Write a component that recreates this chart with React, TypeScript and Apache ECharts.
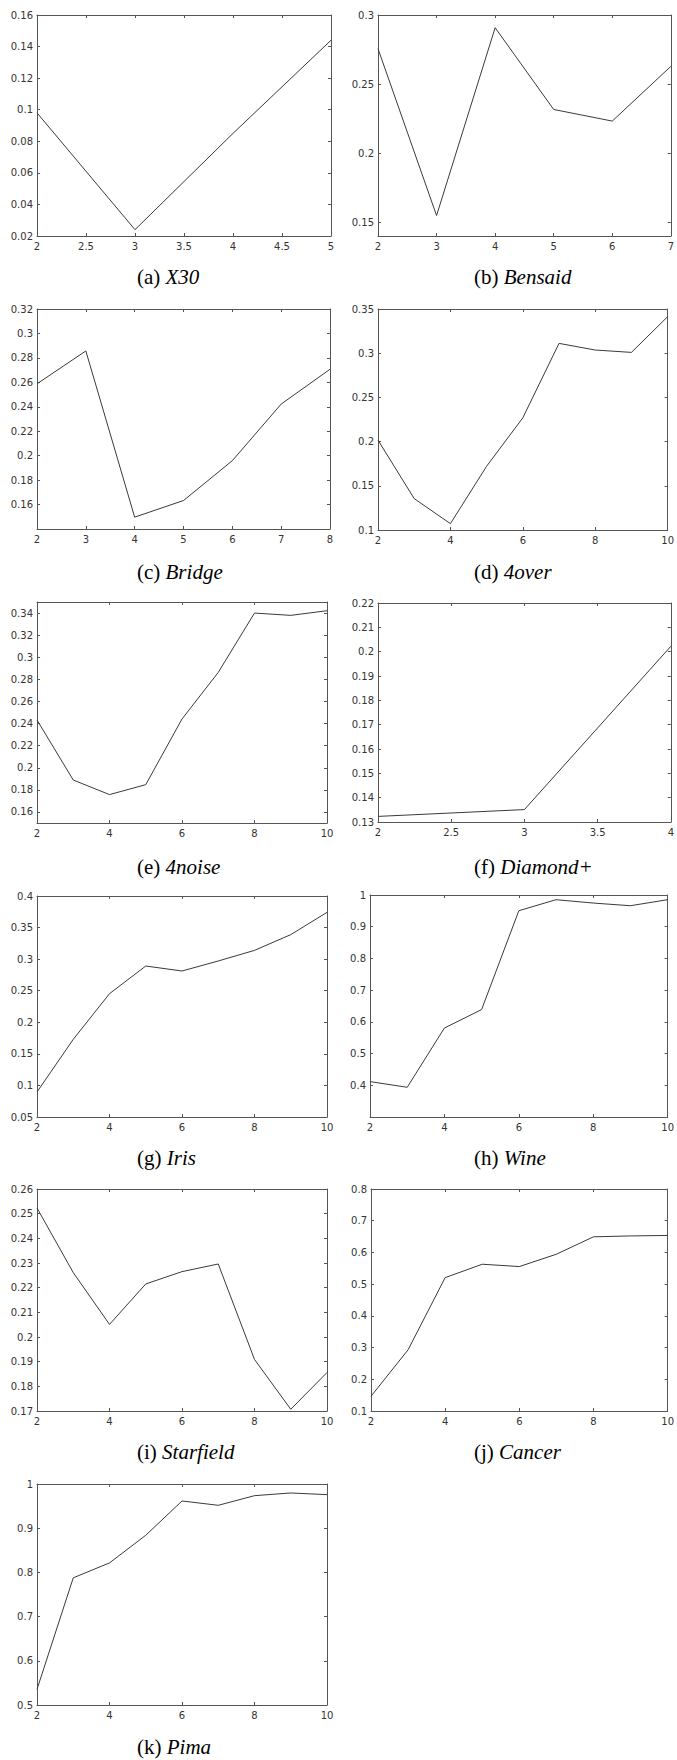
import React, { useEffect, useRef } from "react";
import * as echarts from "echarts";

// ---- data ----
const kX30 = [2, 3, 4, 5];
const valX30 = [0.098, 0.024, 0.085, 0.144];
const xTicksX30 = [2, 2.5, 3, 3.5, 4, 4.5, 5];
const yTicksX30 = [0.02, 0.04, 0.06, 0.08, 0.1, 0.12, 0.14, 0.16];

const kBensaid = [2, 3, 4, 5, 6, 7];
const valBensaid = [0.2756, 0.1548, 0.2908, 0.2316, 0.2232, 0.2628];
const xTicksBensaid = [2, 3, 4, 5, 6, 7];
const yTicksBensaid = [0.15, 0.2, 0.25, 0.3];

const kBridge = [2, 3, 4, 5, 6, 7, 8];
const valBridge = [0.2588, 0.2857, 0.1497, 0.1633, 0.1959, 0.2422, 0.2707];
const xTicksBridge = [2, 3, 4, 5, 6, 7, 8];
const yTicksBridge = [0.16, 0.18, 0.2, 0.22, 0.24, 0.26, 0.28, 0.3, 0.32];

const k4over = [2, 3, 4, 5, 6, 7, 8, 9, 10];
const val4over = [0.2016, 0.1355, 0.1072, 0.1721, 0.2269, 0.3111, 0.3036, 0.3009, 0.3413];
const xTicks4over = [2, 4, 6, 8, 10];
const yTicks4over = [0.1, 0.15, 0.2, 0.25, 0.3, 0.35];

const k4noise = [2, 3, 4, 5, 6, 7, 8, 9, 10];
const val4noise = [0.2432, 0.1889, 0.1757, 0.1847, 0.2441, 0.2863, 0.34, 0.3379, 0.3421];
const xTicks4noise = [2, 4, 6, 8, 10];
const yTicks4noise = [0.16, 0.18, 0.2, 0.22, 0.24, 0.26, 0.28, 0.3, 0.32, 0.34];

const kDiamond = [2, 3, 4];
const valDiamond = [0.1323, 0.1351, 0.2022];
const xTicksDiamond = [2, 2.5, 3, 3.5, 4];
const yTicksDiamond = [0.13, 0.14, 0.15, 0.16, 0.17, 0.18, 0.19, 0.2, 0.21, 0.22];

const kIris = [2, 3, 4, 5, 6, 7, 8, 9, 10];
const valIris = [0.0896, 0.173, 0.2453, 0.2891, 0.2812, 0.2971, 0.3139, 0.3388, 0.3741];
const xTicksIris = [2, 4, 6, 8, 10];
const yTicksIris = [0.05, 0.1, 0.15, 0.2, 0.25, 0.3, 0.35, 0.4];

const kWine = [2, 3, 4, 5, 6, 7, 8, 9, 10];
const valWine = [0.4116, 0.3937, 0.5806, 0.6387, 0.9504, 0.9852, 0.9746, 0.9662, 0.9852];
const xTicksWine = [2, 4, 6, 8, 10];
const yTicksWine = [0.4, 0.5, 0.6, 0.7, 0.8, 0.9, 1];

const kStarfield = [2, 3, 4, 5, 6, 7, 8, 9, 10];
const valStarfield = [0.2523, 0.2261, 0.2051, 0.2215, 0.2265, 0.2296, 0.1909, 0.1707, 0.1856];
const xTicksStarfield = [2, 4, 6, 8, 10];
const yTicksStarfield = [0.17, 0.18, 0.19, 0.2, 0.21, 0.22, 0.23, 0.24, 0.25, 0.26];

const kCancer = [2, 3, 4, 5, 6, 7, 8, 9, 10];
const valCancer = [0.1464, 0.293, 0.5206, 0.5628, 0.5554, 0.5944, 0.6492, 0.652, 0.6535];
const xTicksCancer = [2, 4, 6, 8, 10];
const yTicksCancer = [0.1, 0.2, 0.3, 0.4, 0.5, 0.6, 0.7, 0.8];

const kPima = [2, 3, 4, 5, 6, 7, 8, 9, 10];
const valPima = [0.5354, 0.7877, 0.8215, 0.884, 0.9616, 0.9518, 0.9736, 0.9797, 0.9759];
const xTicksPima = [2, 4, 6, 8, 10];
const yTicksPima = [0.5, 0.6, 0.7, 0.8, 0.9, 1];

// ---- panel layout ----
type Panel = {
  letter: string;
  name: string;
  k: number[];
  v: number[];
  xTicks: number[];
  yTicks: number[];
  xMin: number;
  xMax: number;
  yMin: number;
  yMax: number;
  left: number;
  top: number;
  width: number;
  height: number;
  capX: number;
  capY: number;
};

const panels: Panel[] = [
  { letter: "(a)", name: "X30", k: kX30, v: valX30, xTicks: xTicksX30, yTicks: yTicksX30, xMin: 2, xMax: 5, yMin: 0.02, yMax: 0.16, left: 37, top: 15, width: 294, height: 221, capX: 137, capY: 265 },
  { letter: "(b)", name: "Bensaid", k: kBensaid, v: valBensaid, xTicks: xTicksBensaid, yTicks: yTicksBensaid, xMin: 2, xMax: 7, yMin: 0.14, yMax: 0.3, left: 378, top: 15, width: 293, height: 221, capX: 474, capY: 265 },
  { letter: "(c)", name: "Bridge", k: kBridge, v: valBridge, xTicks: xTicksBridge, yTicks: yTicksBridge, xMin: 2, xMax: 8, yMin: 0.14, yMax: 0.32, left: 37, top: 309, width: 293, height: 220, capX: 137, capY: 560 },
  { letter: "(d)", name: "4over", k: k4over, v: val4over, xTicks: xTicks4over, yTicks: yTicks4over, xMin: 2, xMax: 10, yMin: 0.1, yMax: 0.35, left: 378, top: 309, width: 290, height: 221, capX: 474, capY: 560 },
  { letter: "(e)", name: "4noise", k: k4noise, v: val4noise, xTicks: xTicks4noise, yTicks: yTicks4noise, xMin: 2, xMax: 10, yMin: 0.15, yMax: 0.35, left: 37, top: 602, width: 290, height: 221, capX: 137, capY: 855 },
  { letter: "(f)", name: "Diamond+", k: kDiamond, v: valDiamond, xTicks: xTicksDiamond, yTicks: yTicksDiamond, xMin: 2, xMax: 4, yMin: 0.13, yMax: 0.22, left: 378, top: 603, width: 293, height: 219, capX: 474, capY: 855 },
  { letter: "(g)", name: "Iris", k: kIris, v: valIris, xTicks: xTicksIris, yTicks: yTicksIris, xMin: 2, xMax: 10, yMin: 0.05, yMax: 0.4, left: 37, top: 896, width: 290, height: 221, capX: 137, capY: 1146 },
  { letter: "(h)", name: "Wine", k: kWine, v: valWine, xTicks: xTicksWine, yTicks: yTicksWine, xMin: 2, xMax: 10, yMin: 0.3, yMax: 1, left: 370, top: 895, width: 298, height: 222, capX: 474, capY: 1146 },
  { letter: "(i)", name: "Starfield", k: kStarfield, v: valStarfield, xTicks: xTicksStarfield, yTicks: yTicksStarfield, xMin: 2, xMax: 10, yMin: 0.17, yMax: 0.26, left: 37, top: 1189, width: 290, height: 222, capX: 137, capY: 1440 },
  { letter: "(j)", name: "Cancer", k: kCancer, v: valCancer, xTicks: xTicksCancer, yTicks: yTicksCancer, xMin: 2, xMax: 10, yMin: 0.1, yMax: 0.8, left: 371, top: 1189, width: 297, height: 222, capX: 474, capY: 1440 },
  { letter: "(k)", name: "Pima", k: kPima, v: valPima, xTicks: xTicksPima, yTicks: yTicksPima, xMin: 2, xMax: 10, yMin: 0.5, yMax: 1, left: 37, top: 1484, width: 290, height: 221, capX: 137, capY: 1735 },
];

const BOX = "#555555";
const TEXT = "#333333";
const LINE = "#3a3a3a";
const FONT = "DejaVu Sans";

function buildOption() {
  const grid: any[] = [];
  const xAxis: any[] = [];
  const yAxis: any[] = [];
  const series: any[] = [];
  const title: any[] = [];

  panels.forEach((p, i) => {
    grid.push({ left: p.left, top: p.top, width: p.width, height: p.height, containLabel: false });
    const tick = { show: true, inside: true, length: 3, lineStyle: { color: BOX, width: 1 } };
    const line = { show: true, onZero: false, lineStyle: { color: BOX, width: 1 } };
    const lbl = (vals: number[], margin: number) => ({
      show: true,
      customValues: vals,
      formatter: (v: number) => String(v),
      color: TEXT,
      fontFamily: FONT,
      fontSize: 10,
      margin,
    });
    // bottom
    xAxis.push({
      type: "value", gridIndex: i, position: "bottom", min: p.xMin, max: p.xMax,
      axisLine: line, axisTick: { ...tick, customValues: p.xTicks }, axisLabel: lbl(p.xTicks, 5),
      splitLine: { show: false },
    });
    // top
    xAxis.push({
      type: "value", gridIndex: i, position: "top", min: p.xMin, max: p.xMax,
      axisLine: line, axisTick: { ...tick, customValues: p.xTicks }, axisLabel: { show: false },
      splitLine: { show: false },
    });
    // left
    yAxis.push({
      type: "value", gridIndex: i, position: "left", min: p.yMin, max: p.yMax,
      axisLine: line, axisTick: { ...tick, customValues: p.yTicks }, axisLabel: lbl(p.yTicks, 4),
      splitLine: { show: false },
    });
    // right
    yAxis.push({
      type: "value", gridIndex: i, position: "right", min: p.yMin, max: p.yMax,
      axisLine: line, axisTick: { ...tick, customValues: p.yTicks }, axisLabel: { show: false },
      splitLine: { show: false },
    });
    series.push({
      type: "line",
      xAxisIndex: i * 2,
      yAxisIndex: i * 2,
      data: p.k.map((x, j) => [x, p.v[j]]),
      symbol: "none",
      showSymbol: false,
      lineStyle: { color: LINE, width: 1 },
      silent: true,
    });
    title.push({
      text: `{n|${p.letter}} {i|${p.name}}`,
      left: p.capX,
      top: p.capY,
      padding: 0,
      textStyle: {
        fontWeight: "normal",
        fontFamily: "Liberation Serif",
        fontSize: 21,
        rich: {
          n: { fontFamily: "Liberation Serif", fontSize: 21, fontWeight: "normal", color: "#000", lineHeight: 23 },
          i: { fontFamily: "Liberation Serif", fontSize: 21, fontWeight: "normal", fontStyle: "italic", color: "#000", lineHeight: 23 },
        },
      },
    });
  });

  return { animation: false, backgroundColor: "#ffffff", grid, xAxis, yAxis, series, title };
}

export default function App() {
  const ref = useRef<HTMLDivElement>(null);
  useEffect(() => {
    if (!ref.current) return;
    const chart = echarts.init(ref.current, undefined, { renderer: "svg" });
    chart.setOption(buildOption() as any);
    return () => chart.dispose();
  }, []);
  return (
    <div
      ref={ref}
      style={{ position: "absolute", left: 0, top: 0, width: 677, height: 1760, background: "#fff" }}
    />
  );
}
